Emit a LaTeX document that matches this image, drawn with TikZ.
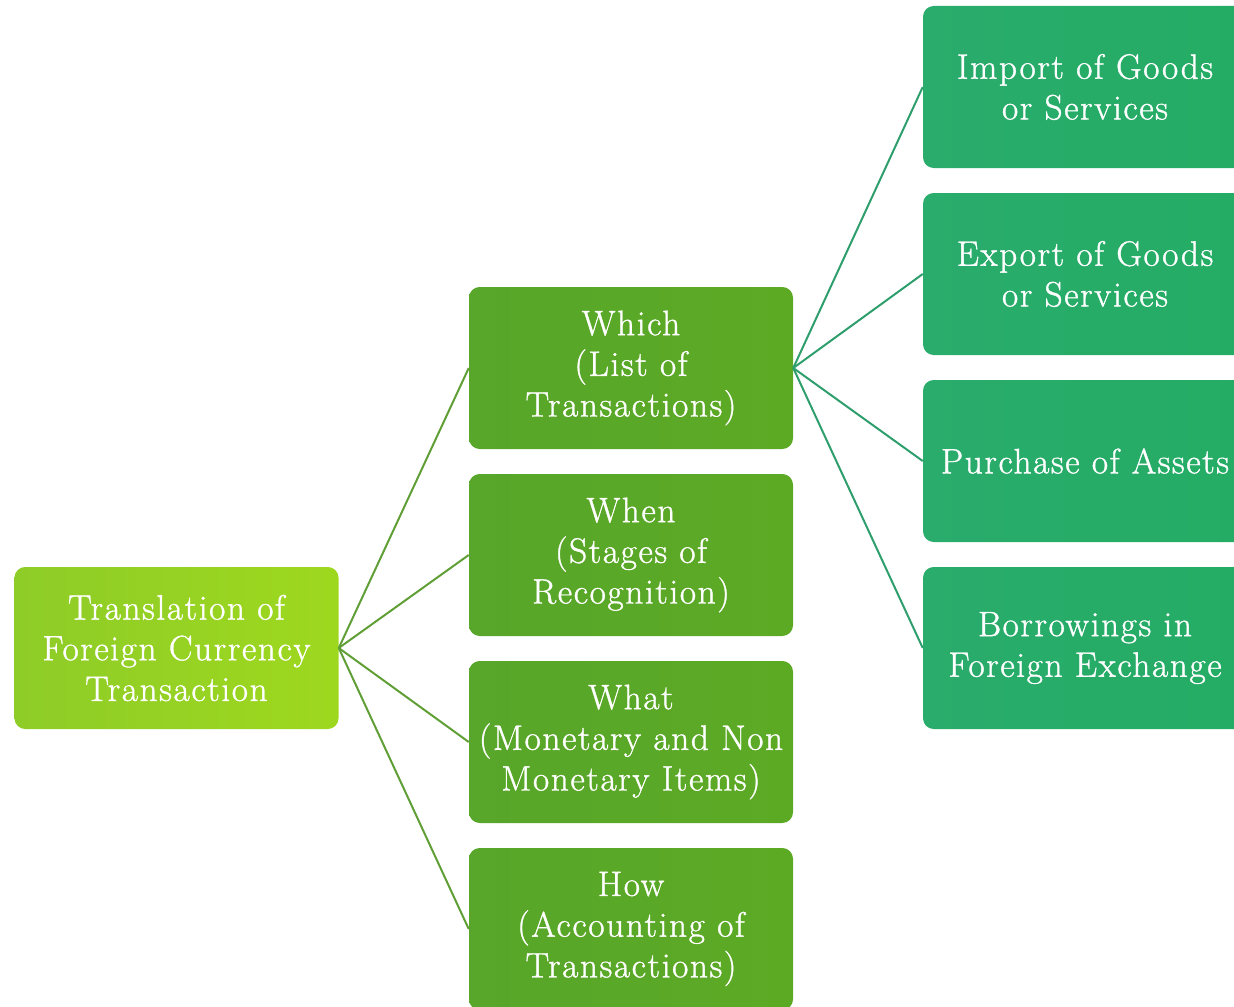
\documentclass[tikz,border=0pt]{standalone}
\usepackage{fontspec}
\setmainfont{Latin Modern Roman}[LetterSpace=4.5, FakeBold=1]
\usepackage{tikz}

\tikzset{
  boxtext/.style={text=white, align=center, font=\fontsize{26.5}{30.5}\selectfont, inner sep=0pt,
    minimum width=243pt, minimum height=121.5pt, rounded corners=8pt},
  rootbox/.style={boxtext, left color={rgb,255:red,142;green,204;blue,40}, right color={rgb,255:red,158;green,216;blue,30}},
  midbox/.style={boxtext, left color={rgb,255:red,88;green,166;blue,42}, right color={rgb,255:red,92;green,170;blue,36}},
  leafbox/.style={boxtext, left color={rgb,255:red,42;green,172;blue,108}, right color={rgb,255:red,36;green,172;blue,100}},
  midlink/.style={color={rgb,255:red,96;green,158;blue,54}, line width=1.5},
  leaflink/.style={color={rgb,255:red,46;green,158;blue,108}, line width=1.5}
}

\begin{document}
\begin{tikzpicture}[x=0.75pt,y=0.75pt,yscale=-1,xscale=1]
\useasboundingbox (0,0) rectangle (1234,1006);

%Root
\node [rootbox] (root) at (176.5,648) {Translation of\\Foreign Currency\\Transaction};

%Middle column
\node [midbox] (which) at (631,368) {Which\\(List of\\Transactions)};
\node [midbox] (when) at (631,555) {When\\(Stages of\\Recognition)};
\node [midbox] (what) at (631,742) {What\\(Monetary and Non\\Monetary Items)};
\node [midbox] (how) at (631,929) {How\\(Accounting of\\Transactions)};

%Right column
\node [leafbox] (import) at (1085,87) {Import of Goods\\or Services};
\node [leafbox] (export) at (1085,274) {Export of Goods\\or Services};
\node [leafbox] (purchase) at (1085,461) {Purchase of Assets};
\node [leafbox] (borrow) at (1085,648) {Borrowings in\\Foreign Exchange};

%Straight Lines: root to middle
\draw [midlink] (root.east) -- (which.west);
\draw [midlink] (root.east) -- (when.west);
\draw [midlink] (root.east) -- (what.west);
\draw [midlink] (root.east) -- (how.west);

%Straight Lines: which to right
\draw [leaflink] (which.east) -- (import.west);
\draw [leaflink] (which.east) -- (export.west);
\draw [leaflink] (which.east) -- (purchase.west);
\draw [leaflink] (which.east) -- (borrow.west);

\end{tikzpicture}
\end{document}
